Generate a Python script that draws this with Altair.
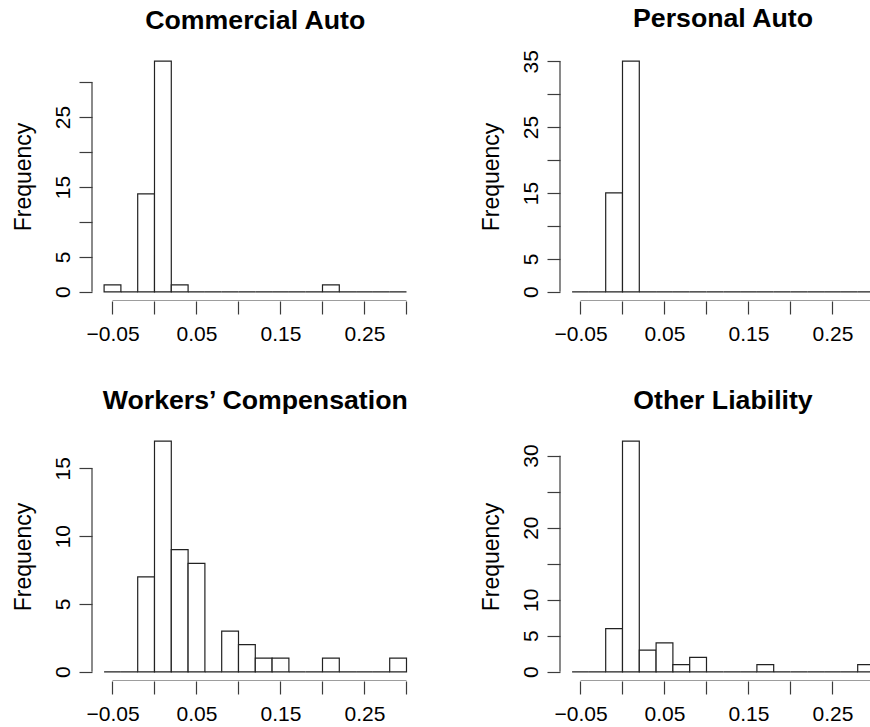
import altair as alt
import pandas as pd

# ---------------- data ----------------
bin_start = [-0.06, -0.04, -0.02, 0.00, 0.02, 0.04, 0.06, 0.08, 0.10,
             0.12, 0.14, 0.16, 0.18, 0.20, 0.22, 0.24, 0.26, 0.28]
bin_end = [-0.04, -0.02, 0.00, 0.02, 0.04, 0.06, 0.08, 0.10, 0.12,
           0.14, 0.16, 0.18, 0.20, 0.22, 0.24, 0.26, 0.28, 0.30]

commercial_auto = [1, 0, 14, 33, 1, 0, 0, 0, 0, 0, 0, 0, 0, 1, 0, 0, 0, 0]
personal_auto = [0, 0, 15, 35, 0, 0, 0, 0, 0, 0, 0, 0, 0, 0, 0, 0, 0, 0]
workers_comp = [0, 0, 7, 17, 9, 8, 0, 3, 2, 1, 1, 0, 0, 1, 0, 0, 0, 1]
other_liability = [0, 0, 6, 32, 3, 4, 1, 2, 0, 0, 0, 1, 0, 0, 0, 0, 0, 1]

x_ticks = [-0.05, 0.00, 0.05, 0.10, 0.15, 0.20, 0.25, 0.30]
x_tick_labels = [-0.05, 0.05, 0.15, 0.25]

ca_ticks = [0, 5, 10, 15, 20, 25, 30]
ca_labels = [0, 5, 15, 25]
pa_ticks = [0, 5, 10, 15, 20, 25, 30, 35]
pa_labels = [0, 5, 15, 25, 35]
wc_ticks = [0, 5, 10, 15]
wc_labels = [0, 5, 10, 15]
ol_ticks = [0, 5, 10, 15, 20, 25, 30]
ol_labels = [0, 5, 10, 20, 30]

titles = ["Commercial Auto", "Personal Auto", "Workers\u2019 Compensation", "Other Liability"]

# ---------------- style ----------------
FONT = "Liberation Sans"
AX = "#3c3c3c"
PANEL_H = 249
PX_PER_UNIT = 840.0
X_LO = -0.0744


def list_expr(vals):
    return "[" + ",".join(repr(v) for v in vals) + "]"


def panel(title, counts, y_ticks, y_labels, width, title_dx):
    x_hi = X_LO + width / PX_PER_UNIT
    ymax = max(counts)
    xscale = alt.Scale(domain=[X_LO, x_hi], nice=False, zero=False)
    yscale = alt.Scale(domain=[-0.04 * ymax, 1.04 * ymax], nice=False, zero=False)
    xt = [v for v in x_ticks if v <= x_hi]

    df = pd.DataFrame({"start": bin_start, "end": bin_end, "count": counts})

    x_axis = alt.Axis(
        values=xt, domain=False, grid=False, tickSize=13, tickColor=AX, tickWidth=1.2,
        labelFont=FONT, labelFontSize=21, labelColor="black", labelPadding=9,
        labelOverlap=False, labelFlush=False, format=".2f",
        labelExpr="indexof(" + list_expr(x_tick_labels) + ", datum.value) >= 0 ? datum.label : ''",
        title="",
    )
    y_axis = alt.Axis(
        values=y_ticks, domain=False, grid=False, tickSize=13, tickColor=AX, tickWidth=1.2,
        labelFont=FONT, labelFontSize=21, labelColor="black", labelPadding=6,
        labelAngle=270, labelAlign="center", labelBaseline="bottom",
        labelOverlap=False, labelFlush=False,
        labelExpr="indexof(" + list_expr(y_labels) + ", datum.value) >= 0 ? datum.label : ''",
        title="Frequency", titleFont=FONT, titleFontSize=23, titleFontWeight="normal",
        titleColor="black", titlePadding=16.5,
    )

    bars = alt.Chart(df).mark_rect(
        fill="white", stroke="#222222", strokeWidth=1.2, clip=True
    ).encode(
        x=alt.X("start:Q", scale=xscale, axis=x_axis),
        x2="end",
        y=alt.Y("count:Q", scale=yscale, axis=y_axis),
        y2=alt.datum(0),
    )

    yline = alt.Chart(pd.DataFrame({"lo": [y_ticks[0]], "hi": [y_ticks[-1]]})).mark_rule(
        color=AX, strokeWidth=1.2
    ).encode(
        x=alt.value(0),
        y=alt.Y("lo:Q", scale=yscale, axis=y_axis),
        y2="hi",
    )
    xline = alt.Chart(pd.DataFrame({"lo": [x_ticks[0]], "hi": [x_ticks[-1]]})).mark_rule(
        color=AX, strokeWidth=1.2, clip=True
    ).encode(
        y=alt.value(PANEL_H),
        x=alt.X("lo:Q", scale=xscale, axis=x_axis),
        x2="hi",
    )

    return alt.layer(bars, yline, xline).properties(
        width=width,
        height=PANEL_H,
        title=alt.TitleParams(
            text=title, font=FONT, fontSize=26.7, fontWeight="bold", color="black",
            frame="group", anchor="middle", offset=17, dx=title_dx,
        ),
    )


p1 = panel(titles[0], commercial_auto, ca_ticks, ca_labels, 326.5, 0)
p2 = panel(titles[1], personal_auto, pa_ticks, pa_labels, 310, 8)
p3 = panel(titles[2], workers_comp, wc_ticks, wc_labels, 326.5, 0)
p4 = panel(titles[3], other_liability, ol_ticks, ol_labels, 310, 8)

chart = alt.concat(
    p1, p2, p3, p4, columns=2, spacing={"row": 131, "column": 141}, bounds="flush"
).properties(
    padding={"left": 12, "top": 5, "right": 0, "bottom": 0},
    background="white",
).configure_view(strokeWidth=0)

chart.save("out.html", embed_options={"renderer": "svg", "actions": False})
